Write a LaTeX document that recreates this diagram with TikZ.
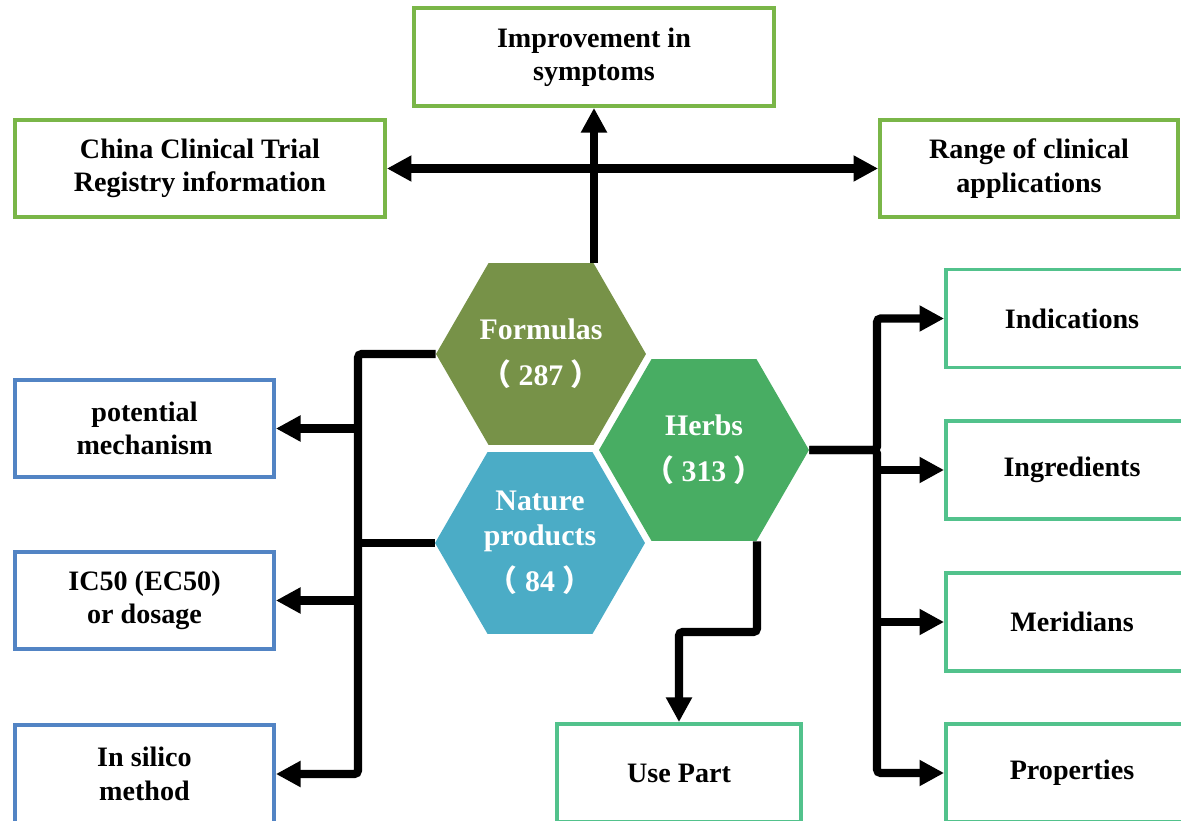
\documentclass[tikz,border=0pt]{standalone}
\usepackage{fontspec}
\setmainfont{Liberation Serif}
\newfontfamily\cjk{Noto Sans CJK SC}
\usepackage{tikz}
\usetikzlibrary{shapes.geometric,arrows.meta,positioning}
\definecolor{formcol}{RGB}{119,146,72}
\definecolor{herbcol}{RGB}{72,173,99}
\definecolor{natcol}{RGB}{75,172,198}
\definecolor{topgreen}{RGB}{122,182,72}
\definecolor{boxblue}{RGB}{82,132,196}
\definecolor{boxteal}{RGB}{82,194,140}
\newcommand{\hexcount}[1]{{\cjk（}\hspace{0.25em}#1\hspace{0.25em}{\cjk）}}

\begin{document}
\begin{tikzpicture}[x=0.02cm, y=-0.02cm, font=\bfseries\fontsize{16}{19}\selectfont,
   box/.style={rectangle, draw, line width=2.2pt, fill=white, align=center, inner sep=2pt},
   hexa/.style={regular polygon, regular polygon sides=6, minimum size=4.2cm, inner sep=0pt,
                text=white, align=center, font=\bfseries\fontsize{17}{20}\selectfont},
   line/.style={line width=4.6pt, rounded corners=2pt},
   arr/.style={line, -{Triangle[length=14pt,width=14pt]}},
   arr2/.style={line, {Triangle[length=14pt,width=14pt]}-{Triangle[length=14pt,width=14pt]}}]
   \useasboundingbox (0,0) rectangle (1181,821);
   % top boxes
   \node[box, draw=topgreen, minimum width=7.2cm, minimum height=1.96cm] (improve) at (594,57) {Improvement in\\symptoms};
   \node[box, draw=topgreen, minimum width=7.4cm, minimum height=1.94cm] (china) at (200,168.5) {China Clinical Trial\\Registry information};
   \node[box, draw=topgreen, minimum width=5.96cm, minimum height=1.94cm] (range) at (1029,168.5) {Range of clinical\\applications};
   % left boxes
   \node[box, draw=boxblue, minimum width=5.18cm, minimum height=1.94cm] (mech) at (144.5,428.5) {potential\\mechanism};
   \node[box, draw=boxblue, minimum width=5.18cm, minimum height=1.94cm] (dose) at (144.5,600.5) {IC50 (EC50)\\or dosage};
   \node[box, draw=boxblue, minimum width=5.18cm, minimum height=1.96cm] (silico) at (144.5,774) {In silico\\method};
   % right boxes
   \node[box, draw=boxteal, minimum width=5.04cm, minimum height=1.96cm] (indic) at (1072,318.5) {Indications};
   \node[box, draw=boxteal, minimum width=5.04cm, minimum height=1.96cm] (ingr) at (1072,470) {Ingredients};
   \node[box, draw=boxteal, minimum width=5.04cm, minimum height=1.96cm] (merid) at (1072,622) {Meridians};
   \node[box, draw=boxteal, minimum width=5.04cm, minimum height=1.96cm] (props) at (1072,773) {Properties};
   \node[box, draw=boxteal, minimum width=4.88cm, minimum height=1.96cm] (usepart) at (679,773) {Use Part};
   % hexagons
   \node[hexa, fill=formcol] (formulas) at (541,354) {Formulas\\[6pt]\hexcount{287}};
   \node[hexa, fill=natcol] (nature) at (540,543) {Nature\\products\\[6pt]\hexcount{84}};
   \node[hexa, fill=herbcol] (herbs) at (704,450) {Herbs\\[6pt]\hexcount{313}};
   % bus points
   \coordinate (lbot) at (358,774);
   \coordinate (rtop) at (877,318.5);
   \coordinate (rbot) at (877,773);
   \coordinate (hbend) at (757,632);
   % connectors
   \draw[arr] (formulas.north -| improve.south) -- (improve.south);
   \draw[arr2] (china.east) -- (range.west);
   \draw[arr] (formulas.west) -| (lbot) -- (silico.east);
   \draw[line] (nature.west) -- (nature.west -| lbot);
   \draw[arr] (mech.east -| lbot) -- (mech.east);
   \draw[arr] (dose.east -| lbot) -- (dose.east);
   \draw[arr] (herbs.east) -| (rtop) -- (indic.west);
   \draw[arr] (herbs.east) -| (rbot) -- (props.west);
   \draw[arr] (ingr.west -| rtop) -- (ingr.west);
   \draw[arr] (merid.west -| rtop) -- (merid.west);
   \draw[arr] (herbs.south -| hbend) -- (hbend) -| (usepart.north);
\end{tikzpicture}
\end{document}
